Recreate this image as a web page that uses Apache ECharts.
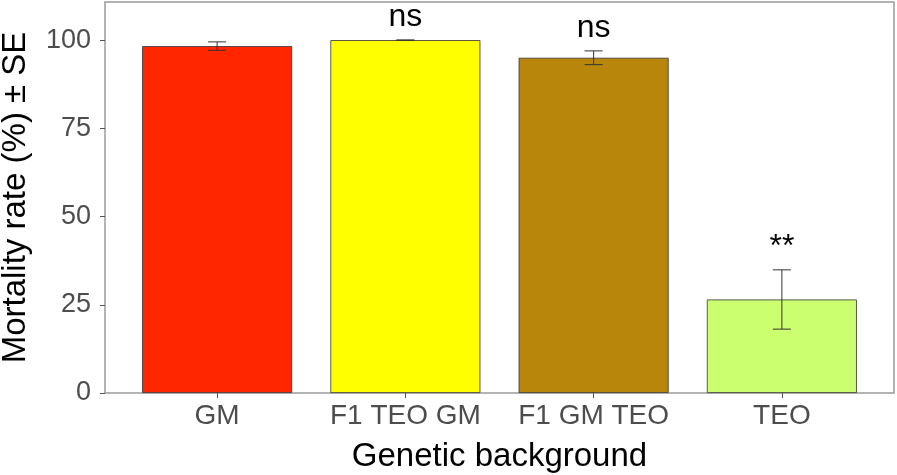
<!DOCTYPE html>
<html>
<head>
<meta charset="utf-8">
<script src="https://cdn.jsdelivr.net/npm/echarts@6/dist/echarts.min.js"></script>
<style>
  html, body { margin: 0; padding: 0; background: #fff; }
  #chart { width: 897px; height: 475px; }
</style>
</head>
<body>
<div id="chart"></div>
<script>
// mortality per genetic background
const categories = ['GM', 'F1 TEO GM', 'F1 GM TEO', 'TEO'];
const mortality = [98.3, 100, 95.0, 26.5];
const stdErr = [1.2, 0, 1.95, 8.4];
const signif = ['', 'ns', 'ns', '**'];
const barColors = ['#FF2600', '#FFFF00', '#B8860B', '#CCFF70'];
const yTicks = [0, 25, 50, 75, 100];

const font = 'Liberation Sans, Arial, sans-serif';
const chart = echarts.init(document.getElementById('chart'));

const errData = categories.map((c, i) => [i, mortality[i] - stdErr[i], mortality[i] + stdErr[i]]);

const option = {
  animation: false,
  grid: [
    { left: 123, right: 21, top: 2, bottom: 82, outerBoundsMode: 'none', containLabel: false },
    { left: 105, right: 3, top: 2, bottom: 82, outerBoundsMode: 'none', containLabel: false,
      show: true, borderColor: '#9a9a9a', borderWidth: 1.5, backgroundColor: 'transparent' }
  ],
  xAxis: [{
    type: 'category',
    data: categories,
    axisLine: { show: false },
    axisTick: { show: true, alignWithLabel: true, length: 5, lineStyle: { color: '#555' } },
    axisLabel: { fontSize: 28, color: '#4d4d4d', fontFamily: font, margin: 9, interval: 0 },
    name: 'Genetic background',
    nameLocation: 'middle',
    nameGap: 47,
    nameTextStyle: { fontSize: 33, color: '#000', fontFamily: font }
  }, {
    gridIndex: 1, type: 'value', show: false
  }],
  yAxis: [{
    type: 'value',
    min: 0,
    max: 110.8,
    interval: 25,
    offset: 18,
    splitLine: { show: false },
    axisLine: { show: false },
    axisTick: { show: true, length: 5, lineStyle: { color: '#555' }, customValues: yTicks },
    axisLabel: { fontSize: 27, color: '#4d4d4d', fontFamily: font, margin: 14, customValues: yTicks },
    name: 'Mortality rate (%) ± SE',
    nameLocation: 'middle',
    nameGap: 73,
    nameTextStyle: { fontSize: 33, color: '#000', fontFamily: font }
  }, {
    gridIndex: 1, type: 'value', show: false
  }],
  series: [{
    type: 'bar',
    barWidth: 150,
    data: mortality.map((v, i) => ({
      value: v,
      itemStyle: { color: barColors[i], borderColor: '#333', borderWidth: 0.8 }
    }))
  }, {
    type: 'custom',
    data: errData,
    z: 5,
    renderItem: function (params, api) {
      const x = api.value(0);
      const top = api.coord([x, api.value(2)]);
      const bot = api.coord([x, api.value(1)]);
      const half = 9;
      const st = { stroke: '#333', lineWidth: 1 };
      const children = [
        { type: 'line', shape: { x1: top[0], y1: top[1], x2: bot[0], y2: bot[1] }, style: st },
        { type: 'line', shape: { x1: top[0] - half, y1: top[1], x2: top[0] + half, y2: top[1] }, style: st },
        { type: 'line', shape: { x1: bot[0] - half, y1: bot[1], x2: bot[0] + half, y2: bot[1] }, style: st }
      ];
      const label = signif[params.dataIndex];
      if (label) {
        children.push({
          type: 'text',
          x: top[0],
          y: top[1] - 7,
          style: {
            text: label,
            font: '32px ' + font,
            fill: '#000',
            textAlign: 'center',
            textVerticalAlign: 'bottom'
          }
        });
      }
      return { type: 'group', children: children };
    }
  }]
};

chart.setOption(option);
</script>
</body>
</html>
